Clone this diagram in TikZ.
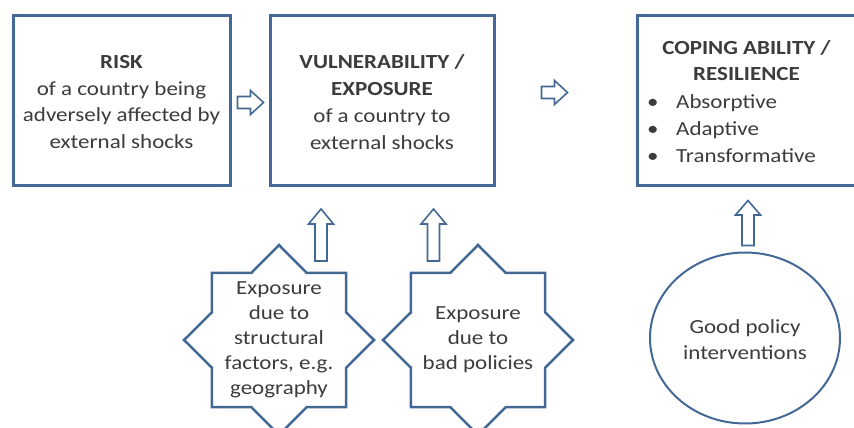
\documentclass[tikz,border=0pt]{standalone}
\usepackage{fontspec}
\setmainfont{Carlito}[FakeStretch=1.15]
\usetikzlibrary{shapes.geometric}
\definecolor{bord}{RGB}{68,104,150}
\definecolor{ink}{RGB}{60,60,60}
\begin{document}
\begin{tikzpicture}[x=1pt,y=-1pt,
  mainbox/.style={draw=bord, line width=3pt, fill=white, inner sep=0pt, minimum height=169pt},
  lbl/.style={text=ink, font=\fontsize{20}{26.8}\selectfont, align=center, inner sep=0pt},
  slbl/.style={lbl, font=\fontsize{20}{25}\selectfont},
  blockarrow/.style={draw=bord, line width=1.6pt, fill=white, line join=miter},
  starshape/.style={star, star points=8, star point ratio=1.31, minimum size=190pt, draw=bord, line width=2.5pt, inner sep=0pt},
  ovalshape/.style={ellipse, draw=bord, line width=2pt, minimum width=190pt, minimum height=171pt, inner sep=0pt}
]
\useasboundingbox (0,0) rectangle (854,428);

% boxes
\node[mainbox, minimum width=217pt] (risk) at (121.5,100.5) {};
\node[mainbox, minimum width=224pt] (vuln) at (382,100.5) {};
\node[mainbox, minimum width=223pt] (cope) at (748.5,100.5) {};

\node[lbl] (risktxt) at (121.5,102) {\textbf{RISK}\\of a country being\\adversely affected by\\external shocks};
\node[lbl] (vulntxt) at (382,102) {\textbf{VULNERABILITY /}\\\textbf{EXPOSURE}\\of a country to\\external shocks};
\node[lbl] (copetitle) at (746.5,60.5) {\textbf{COPING ABILITY /}\\\textbf{RESILIENCE}};
\node[lbl, align=left, anchor=west] (copelist) at (647,128.5)
  {\makebox[29pt][l]{\textbullet}Absorptive\\\makebox[29pt][l]{\textbullet}Adaptive\\\makebox[29pt][l]{\textbullet}Transformative};

% stars and oval
\node[starshape] (s1) at (279,340) {};
\node[starshape] (s2) at (478,340) {};
\node[ovalshape] (ov) at (745,338) {};

\node[slbl] (s1txt) at (279,340) {Exposure\\due to\\structural\\factors, e.g.\\geography};
\node[slbl] (s2txt) at (478,340) {Exposure\\due to\\bad policies};
\node[slbl, font=\fontsize{20}{26}\selectfont] (ovtxt) at (745,340) {Good policy\\interventions};

% block arrows
\coordinate (ar1) at (250.5,102.5);
\coordinate (ar2) at (554.5,92.5);
\coordinate (au1) at (321,235);
\coordinate (au2) at (433.5,235);
\coordinate (au3) at (748,223);

\draw[blockarrow, shift={(ar1)}] (-13,-6) -- (0,-6) -- (0,-12) -- (13,0) -- (0,12) -- (0,6) -- (-13,6) -- cycle;
\draw[blockarrow, shift={(ar2)}] (-13,-6) -- (0,-6) -- (0,-12) -- (13,0) -- (0,12) -- (0,6) -- (-13,6) -- cycle;
\draw[blockarrow, shift={(au1)}] (-6,26) -- (-6,-11) -- (-12.5,-11) -- (0,-26) -- (12.5,-11) -- (6,-11) -- (6,26) -- cycle;
\draw[blockarrow, shift={(au2)}] (-6,26) -- (-6,-11) -- (-12.5,-11) -- (0,-26) -- (12.5,-11) -- (6,-11) -- (6,26) -- cycle;
\draw[blockarrow, shift={(au3)}] (-6,22.5) -- (-6,-8) -- (-12.5,-8) -- (0,-22.5) -- (12.5,-8) -- (6,-8) -- (6,22.5) -- cycle;
\end{tikzpicture}
\end{document}
